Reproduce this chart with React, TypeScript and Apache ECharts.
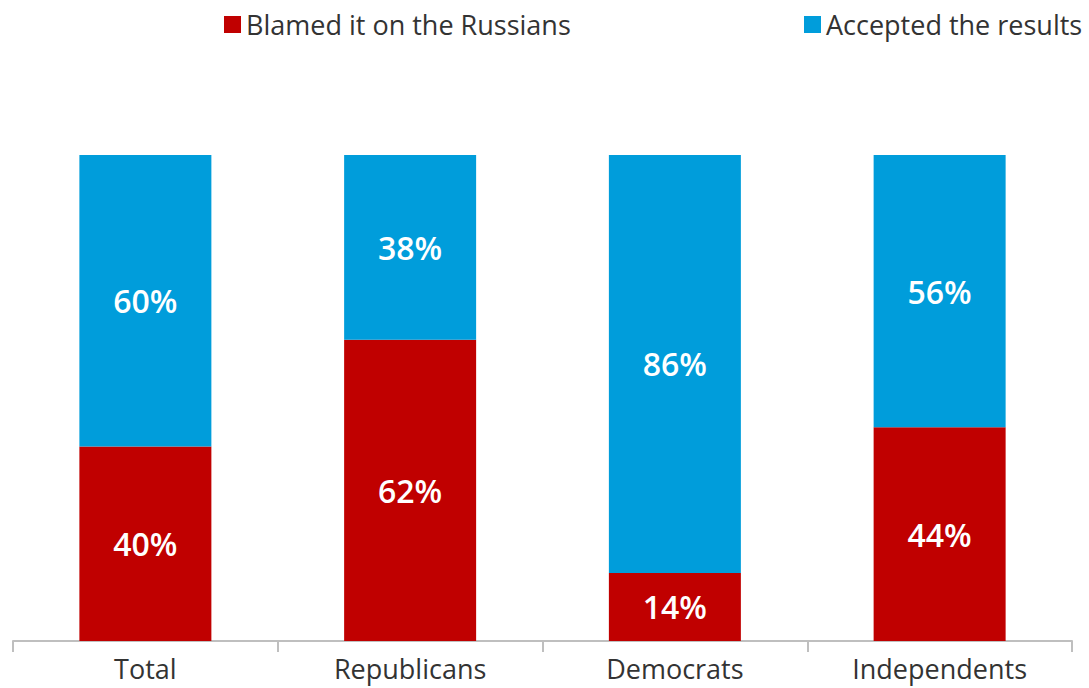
import React, { useEffect, useRef } from "react";
import * as echarts from "echarts";

const categories = ["Total", "Republicans", "Democrats", "Independents"];
const blamedName = "Blamed it on the Russians";
const acceptedName = "Accepted the results";
const blamedValues = [40, 62, 14, 44];
const acceptedValues = [60, 38, 86, 56];

const FONT = "'Open Sans', 'Segoe UI', sans-serif";

export default function App() {
  const ref = useRef<HTMLDivElement>(null);
  useEffect(() => {
    if (!ref.current) return;
    const chart = echarts.init(ref.current, undefined, { renderer: "svg" });
    const labelStyle = {
      show: true,
      position: "inside",
      color: "#ffffff",
      fontWeight: 600,
      fontSize: 32,
      fontFamily: FONT,
      formatter: (p: any) => p.value + "%",
    };
    const legendText = { fontSize: 27, color: "#333", fontFamily: FONT };
    chart.setOption({
      animation: false,
      textStyle: { fontFamily: FONT },
      legend: [
        {
          data: [blamedName],
          left: 219,
          top: 6,
          itemWidth: 17,
          itemHeight: 17,
          itemGap: 5,
          icon: "rect",
          textStyle: legendText,
        },
        {
          data: [acceptedName],
          left: 799,
          top: 6,
          itemWidth: 17,
          itemHeight: 17,
          itemGap: 5,
          icon: "rect",
          textStyle: legendText,
        },
      ],
      grid: { left: 13, right: 17, top: 155, bottom: 47, containLabel: false },
      xAxis: {
        type: "category",
        data: categories,
        boundaryGap: true,
        axisLine: { lineStyle: { color: "#BFBFBF", width: 2 } },
        axisTick: { show: true, length: 11, lineStyle: { color: "#BFBFBF", width: 2 } },
        axisLabel: {
          fontSize: 27,
          color: "#333",
          margin: 14,
          fontFamily: FONT,
        },
      },
      yAxis: {
        type: "value",
        min: 0,
        max: 100,
        show: false,
        splitLine: { show: false },
      },
      series: [
        {
          name: blamedName,
          type: "bar",
          stack: "total",
          data: blamedValues,
          barWidth: 132,
          itemStyle: { color: "#C00000" },
          label: labelStyle,
        },
        {
          name: acceptedName,
          type: "bar",
          stack: "total",
          data: acceptedValues,
          barWidth: 132,
          itemStyle: { color: "#009DDB" },
          label: labelStyle,
        },
      ],
    });
    return () => chart.dispose();
  }, []);
  return (
    <div
      ref={ref}
      style={{ width: 1089, height: 688, position: "absolute", left: 0, top: 0 }}
    />
  );
}
